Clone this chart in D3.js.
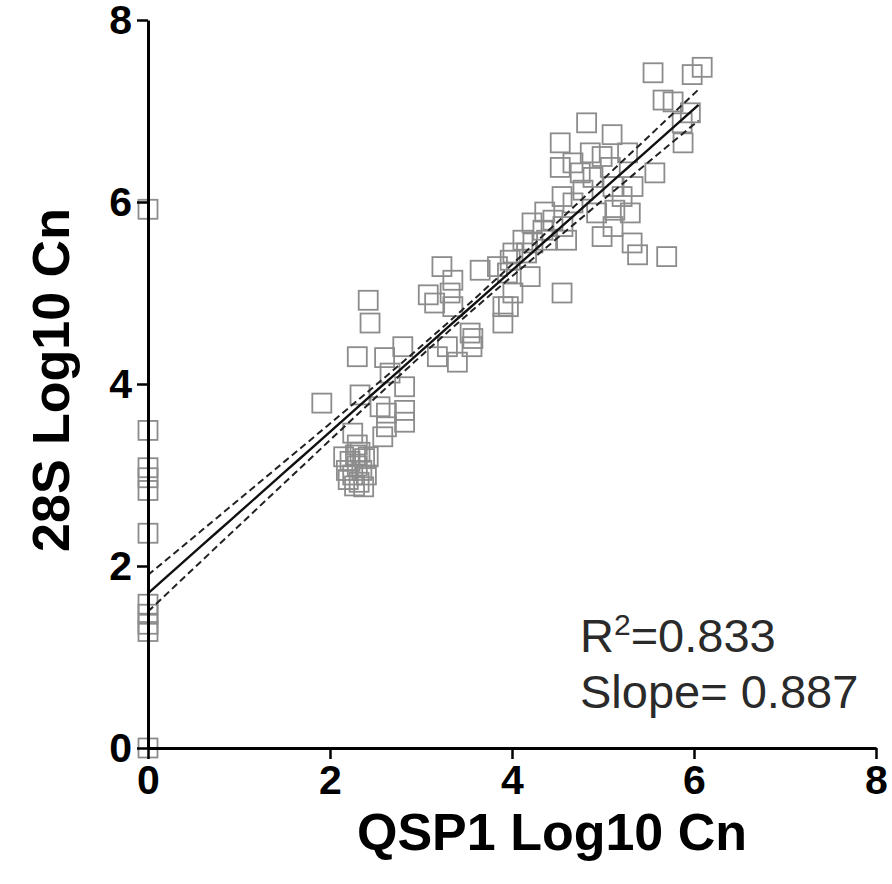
<!DOCTYPE html>
<html>
<head>
<meta charset="utf-8">
<script src="https://cdn.jsdelivr.net/npm/d3@7"></script>
<style>
  body { margin: 0; background: #fff; }
  svg { display: block; }
</style>
</head>
<body>
<div id="chart"></div>
<script>
// QSP1 (x) and 28S (y), log10 copy numbers
const qsp1 = [
  0, 0, 0, 0, 0, 0, 0, 0, 0, 0, 0,
  2.15, 2.18, 2.20, 2.22, 2.25, 2.27, 2.28, 2.30, 2.32, 2.33, 2.35, 2.37, 2.38, 2.40, 2.42, 2.25, 2.30,
  2.42, 2.44, 2.30, 1.91, 2.60, 2.80, 2.33, 2.66, 2.82, 2.82, 2.82, 2.62, 2.62, 2.58, 2.55,
  3.08, 3.23, 3.35, 3.65, 3.32, 3.35, 3.18, 3.40, 3.56, 3.57, 3.29,
  3.98, 4.01, 3.96, 4.20, 4.55, 4.36, 4.55, 4.34, 4.23, 4.53, 4.67, 4.82, 5.10, 4.86, 4.99, 5.27,
  5.55, 5.98, 6.09, 5.66, 5.77, 5.88, 5.57, 5.33, 4.99, 5.32, 5.38, 5.70, 5.13, 5.21, 4.78, 4.67,
  4.89, 5.08, 4.75, 4.56, 4.45, 4.12, 4.22, 4.38, 4.60, 4.16, 4.01, 3.84, 4.53, 5.11, 5.30, 5.11,
  4.93, 3.95, 5.96, 5.87, 3.15, 3.90, 3.90, 3.54
];
const s28 = [
  5.92, 3.49, 3.08, 2.97, 2.83, 2.36, 1.58, 1.47, 1.36, 1.28, 0.00,
  3.20, 3.05, 2.95, 3.15, 3.00, 2.88, 3.22, 3.10, 2.92, 3.25, 3.05, 2.87, 3.18, 3.00, 3.20, 3.46, 3.33,
  4.92, 4.67, 4.30, 3.79, 4.29, 4.41, 3.88, 4.12, 3.97, 3.71, 3.58, 3.68, 3.53, 3.42, 3.75,
  4.98, 5.29, 5.14, 5.25, 5.00, 4.85, 4.30, 4.24, 4.41, 4.50, 4.41,
  5.36, 5.00, 4.85, 5.18, 5.00, 5.89, 6.06, 5.69, 5.55, 6.65, 6.43, 6.87, 6.74, 6.54, 6.50, 6.54,
  7.42, 7.40, 7.48, 7.12, 7.10, 6.65, 6.32, 6.17, 5.62, 5.55, 5.42, 5.40, 5.91, 6.06, 6.13, 5.99,
  6.27, 6.38, 6.32, 5.73, 5.80, 5.58, 5.77, 5.58, 5.58, 5.44, 5.44, 5.29, 6.38, 6.17, 5.88, 5.73,
  5.88, 5.22, 6.98, 6.87, 4.89, 4.85, 4.67, 4.56
];
const xTicks = [0, 2, 4, 6, 8];
const yTicks = [0, 2, 4, 6, 8];

// fitted line and 95% band
const intercept = 1.70;
const slope = 0.887;
const fitRange = [0, 6.05];
const bandMin = 0.05, bandSpread = 0.059, bandCenter = 3.29;

const width = 892, height = 884;

const x = d3.scaleLinear().domain([0, 8]).range([148, 876]);
const y = d3.scaleLinear().domain([0, 8]).range([748, 20]);

const svg = d3.select("#chart").append("svg")
  .attr("width", width)
  .attr("height", height)
  .attr("viewBox", [0, 0, width, height])
  .style("font-family", "'Liberation Sans', Arial, Helvetica, sans-serif");

// points: open grey squares
const side = 19;
svg.append("g")
  .attr("fill", "none")
  .attr("stroke", "#8c8c8c")
  .attr("stroke-width", 1.8)
  .selectAll("rect")
  .data(d3.zip(qsp1, s28))
  .join("rect")
  .attr("x", d => x(d[0]) - side / 2)
  .attr("y", d => y(d[1]) - side / 2)
  .attr("width", side)
  .attr("height", side);

// regression line and confidence band
const xs = d3.range(0, 41).map(i => fitRange[0] + (fitRange[1] - fitRange[0]) * i / 40);
const fit = v => intercept + slope * v;
const half = v => Math.sqrt(bandMin * bandMin + bandSpread * bandSpread * (v - bandCenter) * (v - bandCenter));
const line = d3.line().x(d => x(d[0])).y(d => y(d[1]));

svg.append("path")
  .attr("d", line(xs.map(v => [v, fit(v)])))
  .attr("fill", "none").attr("stroke", "#111").attr("stroke-width", 2.4);

[1, -1].forEach(s => {
  svg.append("path")
    .attr("d", line(xs.map(v => [v, fit(v) + s * half(v)])))
    .attr("fill", "none").attr("stroke", "#222").attr("stroke-width", 2)
    .attr("stroke-dasharray", "7,4");
});

// axes
svg.append("g")
  .attr("transform", `translate(0,${y(0)})`)
  .call(d3.axisBottom(x).tickValues(xTicks).tickSize(11).tickPadding(6).tickSizeOuter(0))
  .call(g => g.select(".domain").attr("stroke-width", 3))
  .call(g => g.selectAll(".tick line").attr("stroke-width", 2.5))
  .call(g => g.selectAll(".tick text").attr("font-size", 41).attr("font-weight", "bold").attr("fill", "#000"));

svg.append("g")
  .attr("transform", `translate(${x(0)},0)`)
  .call(d3.axisLeft(y).tickValues(yTicks).tickSize(11).tickPadding(5).tickSizeOuter(0))
  .call(g => g.select(".domain").attr("stroke-width", 3))
  .call(g => g.selectAll(".tick line").attr("stroke-width", 2.5))
  .call(g => g.selectAll(".tick text").attr("font-size", 41).attr("font-weight", "bold").attr("fill", "#000"));

// axis titles
svg.append("text")
  .attr("x", 552).attr("y", 850)
  .attr("text-anchor", "middle")
  .attr("font-size", 52).attr("font-weight", "bold")
  .text("QSP1 Log10 Cn");

svg.append("text")
  .attr("transform", "translate(69,380) rotate(-90)")
  .attr("text-anchor", "middle")
  .attr("font-size", 52).attr("font-weight", "bold")
  .text("28S Log10 Cn");

// fit statistics
const stats = svg.append("g").attr("fill", "#2a2a2a").attr("font-size", 47);
const r2 = stats.append("text").attr("x", 580).attr("y", 652);
r2.append("tspan").text("R");
r2.append("tspan").attr("font-size", 30).attr("dy", -17).text("2");
r2.append("tspan").attr("dy", 17).text("=0.833");
stats.append("text").attr("x", 580).attr("y", 708).text("Slope= 0.887");
</script>
</body>
</html>
